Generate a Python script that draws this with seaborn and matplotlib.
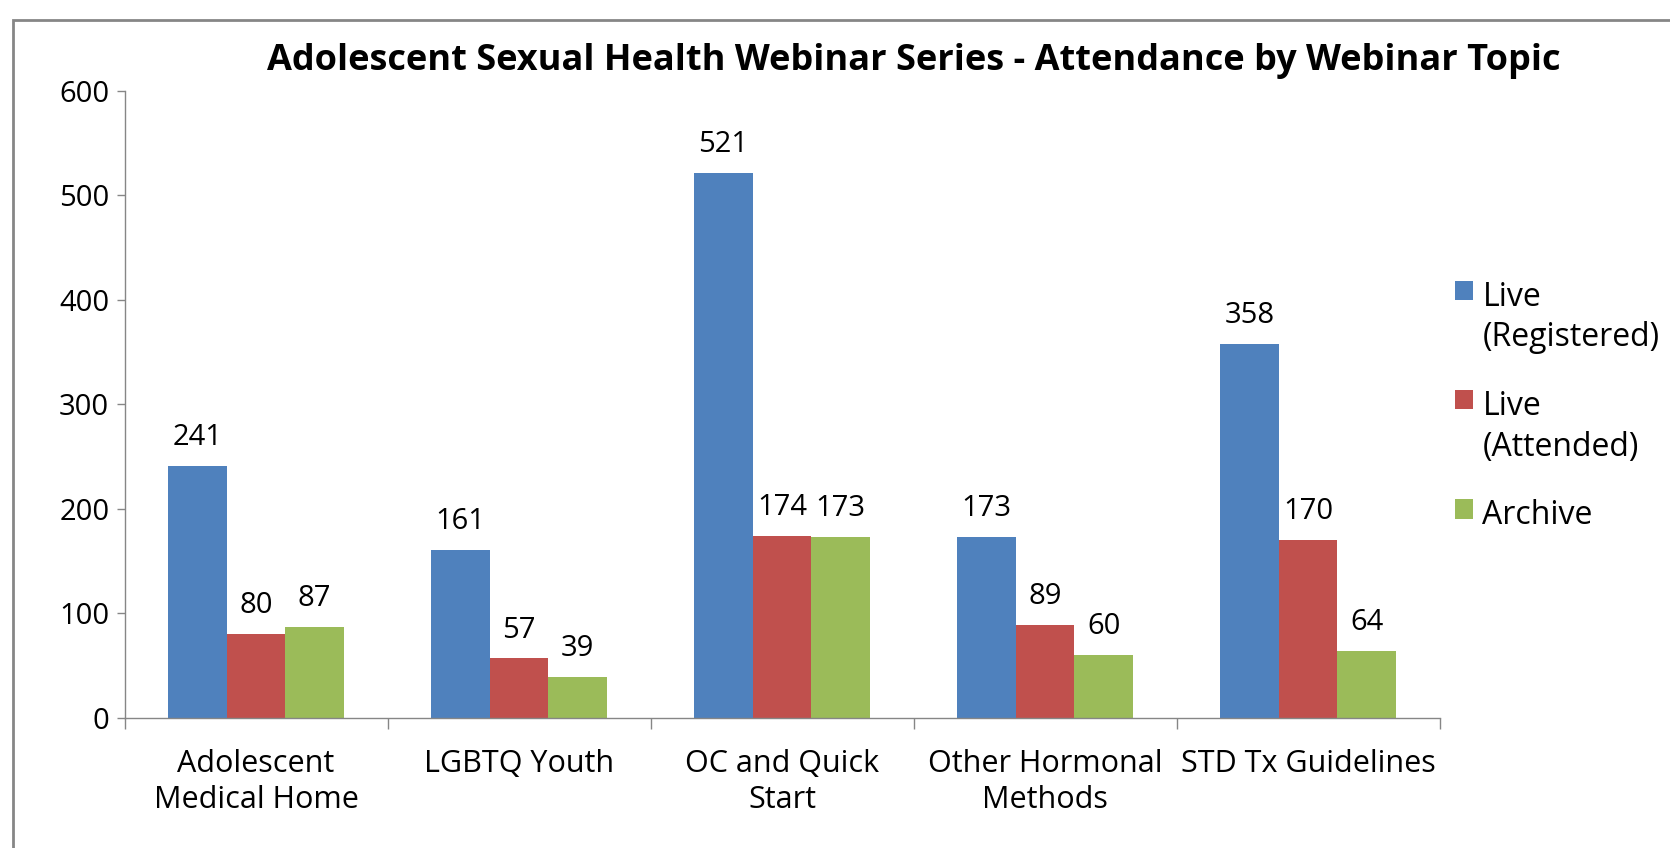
import matplotlib
matplotlib.use('Agg')
import matplotlib.pyplot as plt
from matplotlib.patches import Rectangle
import pandas as pd
import seaborn as sns

topics = ['Adolescent\nMedical Home', 'LGBTQ Youth', 'OC and Quick\nStart',
          'Other Hormonal\nMethods', 'STD Tx Guidelines']
series = ['Live\n(Registered)', 'Live\n(Attended)', 'Archive']
registered = [241, 161, 521, 173, 358]
attended = [80, 57, 174, 89, 170]
archive = [87, 39, 173, 60, 64]
colors = ['#4F81BD', '#C0504D', '#9BBB59']
yticks = [0, 100, 200, 300, 400, 500, 600]

rows = []
for name, vals in zip(series, [registered, attended, archive]):
    for t, v in zip(topics, vals):
        rows.append({'topic': t, 'series': name, 'count': v})
df = pd.DataFrame(rows)

sns.set_style('white', {'text.color': 'black', 'xtick.color': 'black',
                        'ytick.color': 'black'})
plt.rcParams['font.family'] = ['Open Sans', 'DejaVu Sans']

fig = plt.figure(figsize=(16.7, 8.48), dpi=100)
ax = fig.add_axes([0.0746, 0.1533, 0.7874, 0.7397])

sns.barplot(data=df, x='topic', y='count', hue='series', palette=colors,
            width=0.668, saturation=1, ax=ax, edgecolor='none')

for c in ax.containers:
    ax.bar_label(c, padding=10, fontsize=21, color='black')

ax.set_ylim(0, 600)
ax.set_yticks(yticks)
ax.set_xlim(-0.5, 4.5)
ax.set_xlabel('')
ax.set_ylabel('')
ax.tick_params(axis='y', labelsize=21, length=6, width=1, color='#868686',
               labelcolor='black', direction='out', left=True, pad=5)
ax.tick_params(axis='x', which='major', labelsize=22, length=0, pad=22,
               labelcolor='black')
for lbl in ax.get_xticklabels():
    lbl.set_linespacing(1.3)
ax.set_xticks([-0.5, 0.5, 1.5, 2.5, 3.5, 4.5], minor=True)
ax.tick_params(axis='x', which='minor', length=8, width=1, color='#868686',
               direction='out', bottom=True)

for s in ['top', 'right']:
    ax.spines[s].set_visible(False)
for s in ['left', 'bottom']:
    ax.spines[s].set_color('#868686')
    ax.spines[s].set_linewidth(1)

fig.suptitle('Adolescent Sexual Health Webinar Series - Attendance by Webinar Topic',
             x=0.547, y=0.928, fontsize=26, fontweight='bold', va='center',
             color='black')

handles, labels = ax.get_legend_handles_labels()
leg = ax.legend(handles, labels, loc='upper left', bbox_to_anchor=(1.012, 0.697),
                frameon=False, fontsize=23, handlelength=0.55, handleheight=0.55,
                handletextpad=0.3, labelspacing=1.12, borderpad=0, borderaxespad=0)
for t in leg.get_texts():
    t.set_linespacing(1.3)
    t.set_color('black')
# put each square next to the first line of its label
for col in leg._legend_handle_box.get_children():
    for row in col.get_children():
        row.align = 'top'

fig.patches.append(Rectangle((0.008, -0.05), 1.2, 1.026, transform=fig.transFigure,
                             fill=False, edgecolor='#868686', linewidth=2))

fig.savefig('out.png', dpi=100)
